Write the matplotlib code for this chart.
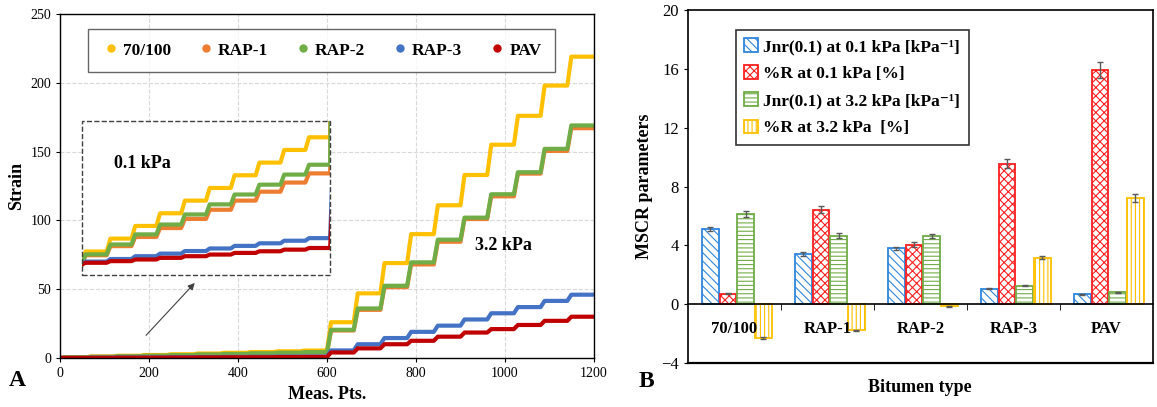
import numpy as np
import matplotlib
matplotlib.use("Agg")
import matplotlib.pyplot as plt
from matplotlib.lines import Line2D
from matplotlib.patches import Rectangle

plt.rcParams['font.family'] = ['Liberation Serif', 'DejaVu Serif']
plt.rcParams['hatch.linewidth'] = 0.8

# =========================
# Panel A data (strain vs measurement points)
# =========================
cycle_starts = [0, 60, 120, 180, 240, 300, 360, 420, 480, 540,
                600, 660, 720, 780, 840, 900, 960, 1020, 1080, 1140]
rise_len = 9
end_pt = 1200

series_names = ["70/100", "RAP-1", "RAP-2", "RAP-3", "PAV"]
series_colors = ["#FFC000", "#ED7D31", "#70AD47", "#4472C4", "#C00000"]

strain_70100 = [0.55, 1.10, 1.64, 2.18, 2.72, 3.26, 3.80, 4.34, 4.88, 5.42,
                26, 47, 69, 90, 111, 133, 155, 176, 198, 219]
strain_rap1 = [0.39, 0.78, 1.17, 1.55, 1.94, 2.33, 2.72, 3.10, 3.49, 3.88,
               20, 35, 51.5, 68, 84.5, 101, 117.5, 134, 150.5, 167]
strain_rap2 = [0.43, 0.85, 1.28, 1.70, 2.13, 2.56, 2.98, 3.40, 3.83, 4.25,
               20.5, 36, 52.5, 69.5, 86, 102, 119, 135, 152, 169]
strain_rap3 = [0.12, 0.23, 0.35, 0.46, 0.57, 0.68, 0.79, 0.90, 1.01, 1.12,
               5.5, 10, 14.5, 19, 23.5, 28, 32.5, 37, 41.5, 46]
strain_pav = [0.07, 0.14, 0.21, 0.28, 0.35, 0.42, 0.49, 0.56, 0.63, 0.70,
              4, 7, 10, 12.5, 15.5, 18.5, 21, 24, 27, 30]
strain_all = [strain_70100, strain_rap1, strain_rap2, strain_rap3, strain_pav]

# =========================
# Panel B data (MSCR parameters)
# =========================
bitumen = ["70/100", "RAP-1", "RAP-2", "RAP-3", "PAV"]
bar_labels = ["Jnr(0.1) at 0.1 kPa [kPa\u207b\u00b9]", "%R at 0.1 kPa [%]",
              "Jnr(0.1) at 3.2 kPa [kPa\u207b\u00b9]", "%R at 3.2 kPa  [%]"]
jnr_01 = [5.10, 3.42, 3.80, 1.04, 0.66]
rec_01 = [0.72, 6.43, 4.05, 9.55, 15.93]
jnr_32 = [6.13, 4.66, 4.64, 1.24, 0.81]
rec_32 = [-2.31, -1.79, -0.14, 3.17, 7.24]
jnr_01_err = [0.12, 0.12, 0.12, 0.03, 0.03]
rec_01_err = [0.05, 0.22, 0.15, 0.30, 0.54]
jnr_32_err = [0.20, 0.15, 0.15, 0.03, 0.03]
rec_32_err = [0.05, 0.03, 0.03, 0.10, 0.26]
bar_vals = [jnr_01, rec_01, jnr_32, rec_32]
bar_errs = [jnr_01_err, rec_01_err, jnr_32_err, rec_32_err]
bar_colors = ["#2E86DE", "#FF2020", "#70AD47", "#FFC000"]
bar_hatch = ["\\\\\\\\", "xxxx", "----", "||||"]


def step_curve(levels):
    xs, ys = [0], [0.0]
    prev = 0.0
    for i, (st, lv) in enumerate(zip(cycle_starts, levels)):
        nxt = cycle_starts[i + 1] if i + 1 < len(cycle_starts) else end_pt
        xs += [st, st + rise_len, nxt]
        ys += [prev, lv, lv]
        prev = lv
    return np.array(xs), np.array(ys)


fig = plt.figure(figsize=(11.57, 4.07), dpi=100)

# ---------- Panel A ----------
ax = fig.add_axes([0.0519, 0.1204, 0.4615, 0.8452])
for name, col, lv in zip(series_names, series_colors, strain_all):
    x, y = step_curve(lv)
    ax.plot(x, y, color=col, lw=3, solid_joinstyle='round')
ax.set_xlim(0, 1200)
ax.set_ylim(0, 250)
ax.set_xticks(np.arange(0, 1201, 200))
ax.set_yticks(np.arange(0, 251, 50))
ax.grid(True, color='#D9D9D9', ls='--', lw=0.8)
ax.set_axisbelow(True)
ax.tick_params(labelsize=10, length=3)
for s in ax.spines.values():
    s.set_linewidth(1.0)
ax.set_xlabel("Meas. Pts.", fontsize=13, fontweight='bold', labelpad=4)
ax.set_ylabel("Strain", fontsize=13, fontweight='bold', labelpad=4)

# zoomed inset for 0.1 kPa
ins = ax.inset_axes([49, 60, 558, 112], transform=ax.transData)
for name, col, lv in zip(series_names, series_colors, strain_all):
    x, y = step_curve(lv)
    ins.plot(x, y, color=col, lw=3)
ins.set_xlim(0, 600)
ins.set_ylim(-0.47, 6.1)
ins.set_xticks([])
ins.set_yticks([])
for s in ins.spines.values():
    s.set_visible(False)
ax.add_patch(Rectangle((49, 60), 558, 112, fill=False, ls='--', lw=1,
                       edgecolor='#404040', zorder=7))
ax.text(186, 141, "0.1 kPa", fontsize=13, fontweight='bold', ha='center', va='center', zorder=8)
ax.text(997, 82, "3.2 kPa", fontsize=13, fontweight='bold', ha='center', va='center')
ax.annotate("", xy=(307, 56), xytext=(189, 15),
            arrowprops=dict(arrowstyle='-|>', color='#404040', lw=0.8, mutation_scale=10))

handles = [Line2D([], [], marker='o', ls='none', color=c, markersize=5) for c in series_colors]
leg = ax.legend(handles, series_names, ncol=5, loc='upper center', bbox_to_anchor=(0.49, 0.983),
                prop={'weight': 'bold', 'size': 12.5}, frameon=True, fancybox=False,
                edgecolor='#404040', columnspacing=1.5, handletextpad=0.2, borderpad=0.8,
                handlelength=1.0)
leg.get_frame().set_linewidth(1.0)
fig.text(0.015, 0.066, "A", fontsize=17, fontweight='bold', ha='center', va='center')

# ---------- Panel B ----------
bx = fig.add_axes([0.5946, 0.1081, 0.4019, 0.8673])
xc = np.arange(len(bitumen))
width = 0.18
offsets = (np.arange(4) - 1.5) * 0.19 + 0.025
for k in range(4):
    bx.bar(xc + offsets[k], bar_vals[k], width, color='white', edgecolor=bar_colors[k],
           hatch=bar_hatch[k], lw=1.3, label=bar_labels[k],
           yerr=bar_errs[k], error_kw=dict(ecolor='#595959', elinewidth=1, capsize=2.5, capthick=1))
bx.set_xlim(-0.5, 4.5)
bx.set_ylim(-4, 20)
bx.set_yticks(np.arange(-4, 21, 4))
bx.spines['bottom'].set_position(('data', 0))
bx.axhline(-4, color='black', lw=1.6, clip_on=False)
for s in bx.spines.values():
    s.set_linewidth(1.2)
bx.set_xticks(xc)
bx.set_xticklabels(bitumen, fontsize=12, fontweight='bold')
bx.set_xticks(xc[:-1] + 0.5, minor=True)
bx.tick_params(axis='x', which='major', length=0, pad=12)
bx.tick_params(axis='x', which='minor', length=4, direction='out')
bx.tick_params(axis='y', labelsize=12, length=3)
bx.set_ylabel("MSCR parameters", fontsize=13, fontweight='bold', labelpad=6)
fig.text(0.795, 0.047, "Bitumen type", fontsize=13, fontweight='bold', ha='center', va='center')
leg2 = bx.legend(loc='upper left', bbox_to_anchor=(0.084, 0.969), prop={'weight': 'bold', 'size': 12.5},
                 frameon=True, fancybox=False, edgecolor='black', handlelength=0.8,
                 handleheight=0.8, handletextpad=0.3, labelspacing=0.6, borderpad=0.5)
leg2.get_frame().set_linewidth(1.2)
fig.text(0.559, 0.062, "B", fontsize=17, fontweight='bold', ha='center', va='center')

fig.savefig("out.png", dpi=100)
